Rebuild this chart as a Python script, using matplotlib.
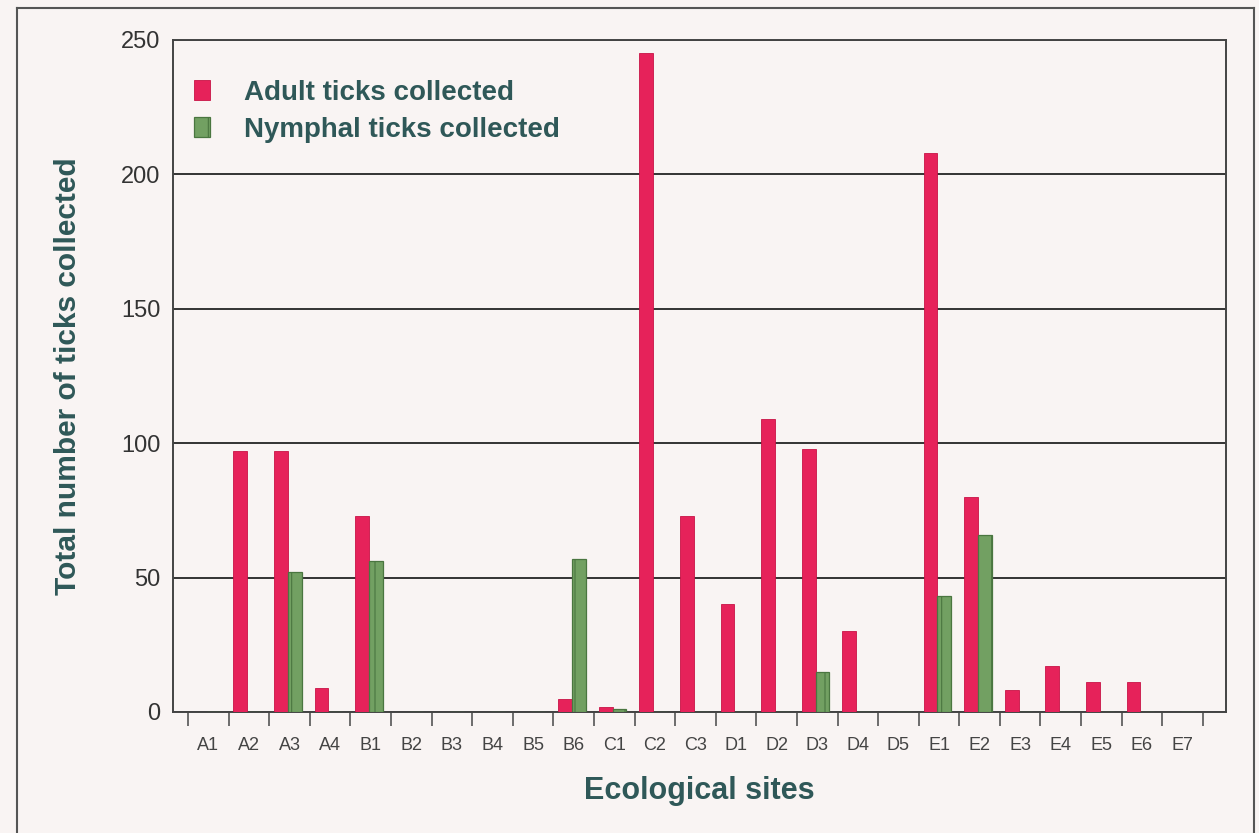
import matplotlib.pyplot as plt
import numpy as np
from matplotlib.lines import Line2D

sites = ['A1', 'A2', 'A3', 'A4', 'B1', 'B2', 'B3', 'B4', 'B5', 'B6', 'C1', 'C2', 'C3',
         'D1', 'D2', 'D3', 'D4', 'D5', 'E1', 'E2', 'E3', 'E4', 'E5', 'E6', 'E7']
adult = [0, 97, 97, 9, 73, 0, 0, 0, 0, 5, 2, 245, 73,
         40, 109, 98, 30, 0, 208, 80, 8, 17, 11, 11, 0]
nymphal = [0, 0, 52, 0, 56, 0, 0, 0, 0, 57, 1, 0, 0,
           0, 0, 15, 0, 0, 43, 66, 0, 0, 0, 0, 0]

bg = '#f9f4f3'
red = '#e6225a'
green = '#72a062'
txt = '#2f5858'

plt.rcParams['font.family'] = ['Liberation Sans', 'DejaVu Sans']
plt.rcParams['hatch.color'] = '#9cc286'
plt.rcParams['hatch.linewidth'] = 0.8

fig = plt.figure(figsize=(12.59, 8.33), dpi=100, facecolor=bg)
ax = fig.add_axes([0.1374, 0.1453, 0.8364, 0.8067], facecolor=bg)

x = np.arange(len(sites))
ax.bar(x + 0.12, adult, width=0.34, align='edge', color=red, edgecolor='#c81346',
       linewidth=0.6, label='Adult ticks collected', zorder=3)
ax.bar(x + 0.46, nymphal, width=0.34, align='edge', color=green, edgecolor='#4a7640',
       linewidth=0.9, hatch='|', label='Nymphal ticks collected', zorder=3)

ax.set_xlim(-0.37, 25.57)
ax.set_ylim(0, 250)
ax.set_yticks([0, 50, 100, 150, 200, 250])
ax.yaxis.grid(True, color='#333333', linewidth=1.4, zorder=1)
ax.tick_params(axis='y', length=0, labelsize=17, labelcolor='#333333', pad=9)

ax.set_xticks(np.arange(len(sites) + 1))
ax.set_xticklabels([])
ax.set_xticks(x + 0.5, minor=True)
ax.set_xticklabels(sites, minor=True, fontsize=13, color='#444444',
                   family=['Liberation Sans Narrow', 'Liberation Sans'])
ax.tick_params(axis='x', which='major', length=10, width=1.2, color='#555555')
ax.tick_params(axis='x', which='minor', length=0, pad=18)

for s in ax.spines.values():
    s.set_color('#444444')
    s.set_linewidth(1.4)

ax.set_ylabel('Total number of ticks collected', fontsize=21.5, fontweight='bold',
              color=txt, labelpad=28)
ax.set_xlabel('Ecological sites', fontsize=22, fontweight='bold', color=txt, labelpad=16)

leg = ax.legend(loc='upper left', bbox_to_anchor=(-0.004, 0.978), frameon=False,
                fontsize=20, handlelength=0.6, handleheight=0.75, handletextpad=1.2,
                labelspacing=0.4)
for t in leg.get_texts():
    t.set_color(txt)
    t.set_fontweight('bold')

# outer frame of the figure
fig.add_artist(Line2D([0.0135, 0.0135], [0, 0.990], color='#555555', lw=1.5))
fig.add_artist(Line2D([0.0135, 0.996], [0.990, 0.990], color='#555555', lw=1.5))
fig.add_artist(Line2D([0.996, 0.996], [0, 0.990], color='#555555', lw=1.5))

fig.savefig('out.png', dpi=100, facecolor=bg)
